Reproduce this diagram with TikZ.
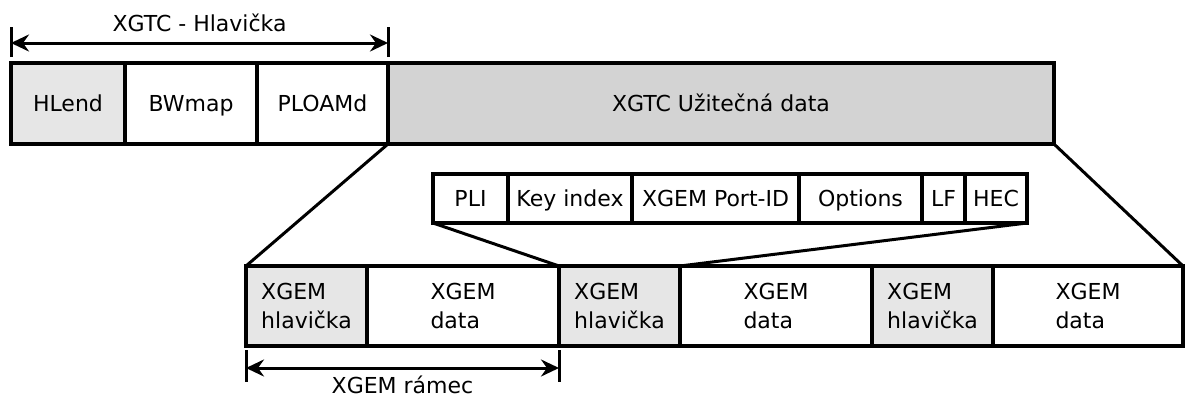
\documentclass[tikz,border=0pt]{standalone}
\usepackage{fontspec}
\setmainfont{DejaVu Sans}
\usepackage[dvipsnames]{xcolor}
\usepackage{tikz}
\usetikzlibrary{positioning,arrows.meta}

\definecolor{hdrgray}{HTML}{E6E6E6}
\definecolor{paygray}{HTML}{D3D3D3}

\tikzset{
	field/.style={draw, line width=1.8pt, inner sep=1pt, outer sep=0pt,
		font=\fontsize{11}{14.2}\selectfont, text height=8pt, text depth=0pt},
	frame/.style={field, minimum height=40.5pt},
	hdr/.style={field, minimum height=24.5pt},
	gem/.style={field, minimum height=40pt, align=left, text height=, text depth=},
	lbl/.style={inner sep=1pt, font=\fontsize{11}{14.2}\selectfont, text height=8pt, text depth=0pt},
	span/.style={line width=1.5pt, {Stealth[length=9pt,width=8.5pt,inset=3pt]}-{Stealth[length=9pt,width=8.5pt,inset=3pt]}},
	tick/.style={line width=1.5pt},
	link/.style={line width=1.5pt}
}

\begin{document}
\begin{tikzpicture}[x=0.5pt, y=-0.5pt]
	\useasboundingbox (0,0) rectangle (1185,396);
	% XGTC frame
	\node [frame, fill=hdrgray, minimum width=57pt, anchor=north west] (hlend) at (11,63) {HLend};
	\node [frame, minimum width=66pt, right=0pt of hlend] (bwmap) {BWmap};
	\node [frame, minimum width=65.5pt, right=0pt of bwmap] (ploamd) {PLOAMd};
	\node [frame, fill=paygray, minimum width=333pt, right=0pt of ploamd] (payload) {XGTC Užitečná data};
	%
	\node [hdr, minimum width=37.5pt, anchor=north west] (pli) at (433,174) {PLI};
	\node [hdr, minimum width=62pt, right=0pt of pli] (keyidx) {Key index};
	\node [hdr, minimum width=83.5pt, right=0pt of keyidx] (portid) {XGEM Port-ID};
	\node [hdr, minimum width=61.5pt, right=0pt of portid] (options) {Options};
	\node [hdr, minimum width=21.5pt, right=0pt of options] (lf) {LF};
	\node [hdr, minimum width=31pt, right=0pt of lf] (hec) {HEC};
	%
	\node [gem, fill=hdrgray, minimum width=60.5pt, anchor=north west] (h1) at (246,266) {XGEM\\hlavička};
	\node [gem, minimum width=96pt, right=0pt of h1] (d1) {XGEM\\data};
	\node [gem, fill=hdrgray, minimum width=60.5pt, right=0pt of d1] (h2) {XGEM\\hlavička};
	\node [gem, minimum width=96pt, right=0pt of h2] (d2) {XGEM\\data};
	\node [gem, fill=hdrgray, minimum width=60.5pt, right=0pt of d2] (h3) {XGEM\\hlavička};
	\node [gem, minimum width=95pt, right=0pt of h3] (d3) {XGEM\\data};
	%
	\draw [link] (payload.south west) -- (h1.north west);
	\draw [link] (payload.south east) -- (d3.north east);
	\draw [link] (pli.south west) -- (h2.north west);
	\draw [link] (hec.south east) -- (d2.north west);
	%
	\coordinate [above=10pt of hlend.north west] (hs);
	\coordinate [above=10pt of ploamd.north east] (he);
	\draw [tick] ([yshift=3pt]hlend.north west) -- ([yshift=18pt]hlend.north west);
	\draw [tick] ([yshift=3pt]ploamd.north east) -- ([yshift=18pt]ploamd.north east);
	\draw [span] (hs) -- node [lbl, midway, above=4pt] (hdrlbl) {XGTC - Hlavička} (he);
	%
	\coordinate [below=11pt of h1.south west] (fs);
	\coordinate [below=11pt of d1.south east] (fe);
	\draw [tick] ([yshift=-2pt]h1.south west) -- ([yshift=-18pt]h1.south west);
	\draw [tick] ([yshift=-2pt]d1.south east) -- ([yshift=-18pt]d1.south east);
	\draw [span] (fs) -- node [lbl, midway, below=3pt] (framelbl) {XGEM rámec} (fe);
\end{tikzpicture}
\end{document}
